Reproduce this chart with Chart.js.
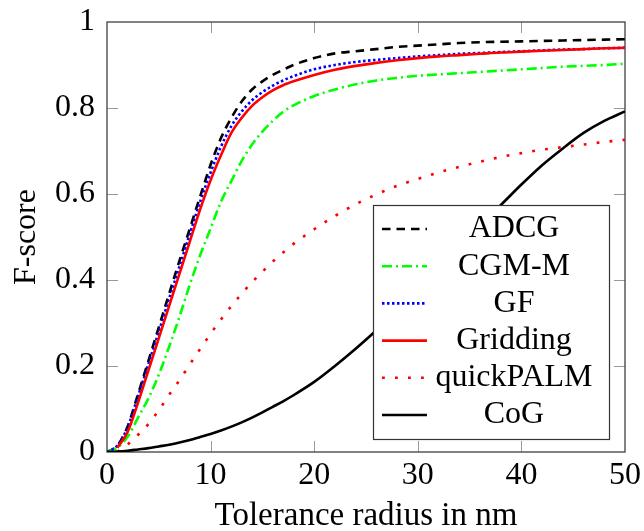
<!DOCTYPE html>
<html>
<head>
<meta charset="utf-8">
<title>F-score vs tolerance radius</title>
<script src="https://cdn.jsdelivr.net/npm/chart.js@4.4.1/dist/chart.umd.min.js"></script>
<style>
  html, body { margin: 0; padding: 0; background: #fff; }
  #wrap { width: 644px; height: 531px; }
</style>
</head>
<body>
<div id="wrap"><canvas id="fscore" width="644" height="531"></canvas></div>
<script>
// Tolerance radius (nm) at which every method was evaluated
const radius = [0, 1, 2, 3, 4, 5, 6, 7, 8, 9, 10, 11, 12, 13, 14, 15, 16, 17, 18,
                20, 22, 24, 26, 28, 30, 32, 34, 36, 38, 40, 42, 44, 46, 48, 50];

// F-score per method (null = not evaluated at that radius)
const adcg = [0, 0.015, 0.06, 0.135, 0.212, 0.29, 0.368, 0.445, 0.52, 0.595, 0.668, 0.73, 0.777, 0.815, 0.843, 0.862, 0.877, 0.889, 0.9,
              0.916, 0.927, 0.932, 0.937, 0.942, 0.945, 0.948, 0.951, 0.953, 0.954, 0.955, 0.956, 0.957, 0.958, 0.959, 0.96];
const cgmM = [0, 0.01, 0.036, 0.08, 0.125, 0.18, 0.245, 0.315, 0.39, 0.458, 0.52, 0.582, 0.63, 0.677, 0.715, 0.745, 0.77, 0.791, 0.806,
              0.828, 0.843, 0.855, 0.864, 0.87, 0.875, 0.878, 0.881, 0.884, 0.887, 0.89, 0.893, 0.896, 0.898, 0.9, 0.903];
const gf = [0, 0.015, 0.058, 0.13, 0.205, 0.28, 0.357, 0.432, 0.508, 0.583, 0.65, 0.71, 0.758, 0.792, 0.818, 0.837, 0.852, 0.864, 0.874,
            0.89, 0.9, 0.907, 0.912, 0.916, 0.92, 0.923, 0.926, 0.928, 0.93, 0.932, 0.934, 0.936, 0.937, 0.939, 0.94];
const gridding = [null, 0.01, 0.047, 0.115, 0.19, 0.265, 0.34, 0.415, 0.49, 0.565, 0.632, 0.69, 0.742, 0.777, 0.805, 0.825, 0.841, 0.853, 0.862,
                  0.877, 0.889, 0.898, 0.905, 0.911, 0.916, 0.92, 0.923, 0.926, 0.929, 0.931, 0.933, 0.935, 0.937, 0.939, 0.94];
const quickPalm = [null, 0, 0.018, 0.04, 0.065, 0.097, 0.133, 0.167, 0.204, 0.24, 0.275, 0.308, 0.339, 0.368, 0.395, 0.419, 0.443, 0.464, 0.484,
                   0.518, 0.549, 0.576, 0.599, 0.619, 0.635, 0.65, 0.663, 0.675, 0.686, 0.695, 0.703, 0.709, 0.715, 0.721, 0.726];
const cog = [0, 0.001, 0.003, 0.006, 0.009, 0.013, 0.017, 0.022, 0.028, 0.035, 0.042, 0.05, 0.059, 0.069, 0.08, 0.092, 0.105, 0.118, 0.132,
             0.163, 0.2, 0.24, 0.283, 0.33, 0.38, 0.43, 0.48, 0.528, 0.574, 0.622, 0.667, 0.706, 0.742, 0.77, 0.792];

// Axis ticks and their printed labels
const xTickValues = [0, 10, 20, 30, 40, 50];
const xTickLabels = ['0', '10', '20', '30', '40', '50'];
const yTickValues = [0, 0.2, 0.4, 0.6, 0.8, 1];
const yTickLabels = ['0', '0.2', '0.4', '0.6', '0.8', '1'];

const FONT = "'Liberation Serif', 'Times New Roman', serif";
const FONT_SIZE = 32;

function points(values) {
  return radius.map((r, i) => ({ x: r, y: values[i] }));
}

function series(label, values, color, dash, order) {
  return {
    label,
    data: points(values),
    borderColor: color,
    backgroundColor: color,
    borderWidth: 2.6,
    borderDash: dash,
    borderCapStyle: 'butt',
    fill: false,
    pointRadius: 0,
    cubicInterpolationMode: 'monotone',
    order
  };
}

function labelFor(values, labels) {
  return function (v) {
    const i = values.findIndex(t => Math.abs(t - v) < 1e-9);
    return i >= 0 ? labels[i] : '';
  };
}

// Frame and inward-pointing ticks on all four sides, drawn under the curves
const framePlugin = {
  id: 'frame',
  beforeDatasetsDraw(chart) {
    const { ctx, chartArea: a, scales: { x, y } } = chart;
    const len = 11;
    ctx.save();
    ctx.strokeStyle = '#999';
    ctx.lineWidth = 1;
    ctx.beginPath();
    xTickValues.slice(1, -1).forEach(v => {
      const px = Math.round(x.getPixelForValue(v)) + 0.5;
      ctx.moveTo(px, a.bottom); ctx.lineTo(px, a.bottom - len);
      ctx.moveTo(px, a.top); ctx.lineTo(px, a.top + len);
    });
    yTickValues.slice(1, -1).forEach(v => {
      const py = Math.round(y.getPixelForValue(v)) + 0.5;
      ctx.moveTo(a.left, py); ctx.lineTo(a.left + len, py);
      ctx.moveTo(a.right, py); ctx.lineTo(a.right - len, py);
    });
    ctx.stroke();
    ctx.strokeStyle = '#404040';
    ctx.lineWidth = 1.3;
    ctx.strokeRect(a.left, a.top, a.right - a.left, a.bottom - a.top);
    ctx.restore();
  }
};

// Boxed legend in the lower right of the plot, drawn over the curves
const boxLegendPlugin = {
  id: 'boxLegend',
  afterDatasetsDraw(chart) {
    const { ctx, chartArea: a } = chart;
    const w = 236, h = 234;
    const right = a.right - 16, bottom = a.bottom - 13;
    const left = right - w, top = bottom - h;
    const rowGap = 37.2;
    ctx.save();
    ctx.fillStyle = '#fff';
    ctx.fillRect(left, top, w, h);
    ctx.strokeStyle = '#333';
    ctx.lineWidth = 1.2;
    ctx.strokeRect(left + 0.5, top + 0.5, w, h);
    ctx.font = FONT_SIZE + 'px ' + FONT;
    ctx.textAlign = 'center';
    ctx.textBaseline = 'middle';
    chart.data.datasets.forEach((ds, i) => {
      const cy = top + 24 + i * rowGap;
      ctx.beginPath();
      ctx.setLineDash(ds.borderDash || []);
      ctx.lineCap = 'butt';
      ctx.strokeStyle = ds.borderColor;
      ctx.lineWidth = ds.borderWidth;
      ctx.moveTo(left + 9, cy);
      ctx.lineTo(left + 54, cy);
      ctx.stroke();
      ctx.setLineDash([]);
      ctx.fillStyle = '#000';
      ctx.fillText(ds.label, left + 141, cy);
    });
    ctx.restore();
  }
};

new Chart(document.getElementById('fscore'), {
  type: 'line',
  data: {
    datasets: [
      series('ADCG', adcg, '#000000', [8.5, 6], 6),
      series('CGM-M', cgmM, '#00ff00', [10, 4, 2, 4], 5),
      series('GF', gf, '#0000ff', [2.5, 2.5], 4),
      series('Gridding', gridding, '#ff0000', [], 3),
      series('quickPALM', quickPalm, '#ff0000', [2.8, 10.2], 2),
      series('CoG', cog, '#000000', [], 1)
    ]
  },
  options: {
    responsive: false,
    animation: false,
    devicePixelRatio: 1,
    layout: { padding: { left: 0, right: 19, top: 22, bottom: 0 } },
    plugins: { legend: { display: false }, tooltip: { enabled: false } },
    scales: {
      x: {
        type: 'linear',
        min: 0, max: 50,
        grid: { display: false, drawTicks: false },
        border: { display: false },
        afterBuildTicks(scale) { scale.ticks = xTickValues.map(v => ({ value: v })); },
        ticks: {
          padding: 4, color: '#000', maxRotation: 0,
          font: { family: FONT, size: FONT_SIZE },
          callback: labelFor(xTickValues, xTickLabels)
        },
        title: {
          display: true, text: 'Tolerance radius in nm', color: '#000',
          font: { family: FONT, size: FONT_SIZE + 1, lineHeight: 1 },
          padding: { top: 0, bottom: -2 }
        },
        afterFit(scale) {
          scale.height = 79;
          scale.paddingLeft = 0;
          scale.paddingRight = 0;
        }
      },
      y: {
        type: 'linear',
        min: 0, max: 1,
        grid: { display: false, drawTicks: false },
        border: { display: false },
        afterBuildTicks(scale) { scale.ticks = yTickValues.map(v => ({ value: v })); },
        ticks: {
          padding: 12, color: '#000',
          font: { family: FONT, size: FONT_SIZE },
          callback: labelFor(yTickValues, yTickLabels)
        },
        title: {
          display: true, text: 'F-score', color: '#000',
          font: { family: FONT, size: FONT_SIZE, lineHeight: 1 },
          padding: { top: 11, bottom: 0 }
        },
        afterFit(scale) {
          scale.width = 107;
          scale.paddingTop = 0;
          scale.paddingBottom = 0;
        }
      }
    }
  },
  plugins: [framePlugin, boxLegendPlugin]
});
</script>
</body>
</html>
